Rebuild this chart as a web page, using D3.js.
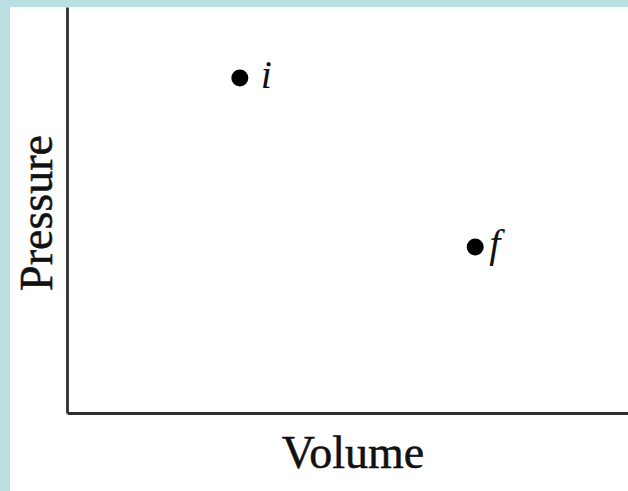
<!DOCTYPE html>
<html>
<head>
<meta charset="utf-8">
<script src="https://cdn.jsdelivr.net/npm/d3@7"></script>
<style>
  html, body { margin: 0; padding: 0; background: #b9dfe3; }
  svg { display: block; }
</style>
</head>
<body>
<svg id="chart" width="628" height="491"></svg>
<script>
// States of the gas on the P–V diagram (arbitrary units)
const stateLabels = ["i", "f"];
const volumes = [3.07, 7.25];
const pressures = [8.25, 4.09];
const axisTitles = ["Volume", "Pressure"];

const W = 628, H = 491;
const svg = d3.select("#chart");

// white panel
svg.append("rect")
  .attr("x", 10).attr("y", 7)
  .attr("width", W - 10).attr("height", H - 7)
  .attr("fill", "#ffffff");

const plot = { left: 67, right: 630, top: 7, bottom: 413 };

const x = d3.scaleLinear().domain([0, 10]).range([plot.left, plot.right]);
const y = d3.scaleLinear().domain([0, 10]).range([plot.bottom, plot.top]);

// bare axes: no ticks, just the axis lines
const xAxis = svg.append("g")
  .attr("transform", `translate(0,${plot.bottom})`)
  .call(d3.axisBottom(x).tickValues([]).tickSizeOuter(0));
const yAxis = svg.append("g")
  .attr("transform", `translate(${plot.left},0)`)
  .call(d3.axisLeft(y).tickValues([]).tickSizeOuter(0));
[xAxis, yAxis].forEach(g => g.select(".domain")
  .attr("stroke", "#2e2e2e")
  .attr("stroke-width", 2.8));

const serif = "'Liberation Serif', 'DejaVu Serif', serif";

// axis titles
svg.append("text")
  .attr("x", 353).attr("y", 468)
  .attr("text-anchor", "middle")
  .attr("font-family", serif)
  .attr("font-size", 46)
  .attr("fill", "#111")
  .attr("stroke", "#111").attr("stroke-width", 0.5)
  .text(axisTitles[0]);

svg.append("text")
  .attr("transform", "translate(52,213) rotate(-90)")
  .attr("text-anchor", "middle")
  .attr("font-family", serif)
  .attr("font-size", 46)
  .attr("fill", "#111")
  .attr("stroke", "#111").attr("stroke-width", 0.5)
  .text(axisTitles[1]);

// state points
const states = stateLabels.map((s, i) => ({ label: s, v: volumes[i], p: pressures[i] }));

svg.selectAll("circle.state")
  .data(states)
  .join("circle")
  .attr("class", "state")
  .attr("cx", d => x(d.v))
  .attr("cy", d => y(d.p))
  .attr("r", 8.5)
  .attr("fill", "#000");

svg.selectAll("text.state")
  .data(states)
  .join("text")
  .attr("class", "state")
  .attr("x", d => x(d.v) + (d.label === "f" ? 14 : 21))
  .attr("y", d => y(d.p) + 10)
  .attr("font-family", serif)
  .attr("font-style", "italic")
  .attr("font-size", 40)
  .attr("fill", "#111")
  .text(d => d.label);
</script>
</body>
</html>
